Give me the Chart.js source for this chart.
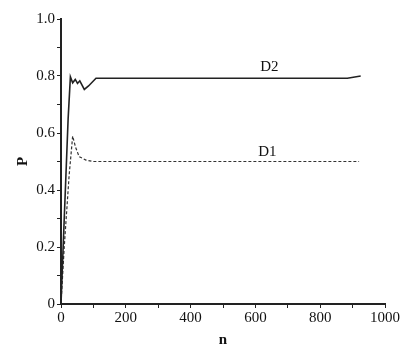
<!DOCTYPE html>
<html>
<head>
<meta charset="utf-8">
<script src="https://cdn.jsdelivr.net/npm/chart.js@4/dist/chart.umd.min.js"></script>
<style>
  body { margin: 0; background: #fff; }
  #wrap { width: 416px; height: 353px; }
</style>
</head>
<body>
<div id="wrap"><canvas id="myChart"></canvas></div>
<script>
// data
var d2N = [0, 10, 22, 29, 36, 44, 51, 58, 72, 85, 108, 300, 600, 884, 925];
var d2P = [0, 0.30, 0.65, 0.797, 0.776, 0.788, 0.774, 0.783, 0.753, 0.765, 0.792, 0.792, 0.792, 0.792, 0.80];

var d1N = [0, 10, 25, 36, 45, 56, 77, 100, 400, 700, 920];
var d1P = [0, 0.20, 0.45, 0.589, 0.55, 0.517, 0.505, 0.50, 0.50, 0.50, 0.50];

var xLabels = ["0", "200", "400", "600", "800", "1000"];
var yLabels = ["0", "0.2", "0.4", "0.6", "0.8", "1.0"];

var curveNames = ["D2", "D1"];
var namePos = [[643, 0.83], [637, 0.533]];

function toPoints(xs, ys) {
  return xs.map(function(x, i) { return { x: x, y: ys[i] }; });
}

var serif = "'Liberation Serif', 'DejaVu Serif', serif";

// writes the curve names at data positions
var curveLabels = {
  id: "curveLabels",
  afterDatasetsDraw: function(chart) {
    var ctx = chart.ctx;
    var xs = chart.scales.x, ys = chart.scales.y;
    ctx.save();
    ctx.font = "15px " + serif;
    ctx.fillStyle = "#111";
    ctx.textAlign = "center";
    ctx.textBaseline = "middle";
    curveNames.forEach(function(name, i) {
      ctx.fillText(name, xs.getPixelForValue(namePos[i][0]), ys.getPixelForValue(namePos[i][1]));
    });
    ctx.restore();
  }
};

new Chart("myChart", {
  type: "line",
  data: {
    datasets: [{
      label: "D2",
      data: toPoints(d2N, d2P),
      borderColor: "#222",
      borderWidth: 1.6,
      pointRadius: 0,
      tension: 0
    }, {
      label: "D1",
      data: toPoints(d1N, d1P),
      borderColor: "#333",
      borderWidth: 1.2,
      borderDash: [3, 2],
      pointRadius: 0,
      tension: 0
    }]
  },
  options: {
    responsive: true,
    maintainAspectRatio: false,
    animation: false,
    layout: { padding: { top: 19, right: 31, left: 14, bottom: 0 } },
    plugins: {
      legend: { display: false },
      tooltip: { enabled: false }
    },
    scales: {
      x: {
        type: "linear",
        min: 0,
        max: 1000,
        ticks: {
          stepSize: 100,
          autoSkip: false,
          maxRotation: 0,
          color: "#111",
          font: { family: serif, size: 15 },
          padding: 1,
          callback: function(v) { return v % 200 === 0 ? xLabels[v / 200] : ""; }
        },
        grid: { drawOnChartArea: false, color: "#222", tickLength: 4, tickWidth: 1 },
        border: { color: "#222", width: 2 },
        title: { display: true, text: "n", color: "#111", font: { family: serif, size: 15, weight: "bold" }, padding: { top: 2 } },
        afterFit: function(s) { s.height = 49; }
      },
      y: {
        min: 0,
        max: 1,
        ticks: {
          stepSize: 0.1,
          autoSkip: false,
          color: "#111",
          font: { family: serif, size: 15 },
          padding: 2,
          callback: function(v) {
            var k = Math.round(v * 10);
            return k % 2 === 0 ? yLabels[k / 2] : "";
          }
        },
        grid: { drawOnChartArea: false, color: "#222", tickLength: 4, tickWidth: 1 },
        border: { color: "#222", width: 2 },
        title: { display: true, text: "P", color: "#111", font: { family: serif, size: 15, weight: "bold" }, padding: 0 },
        afterFit: function(s) { s.width = 47; }
      }
    }
  },
  plugins: [curveLabels]
});
</script>
</body>
</html>
